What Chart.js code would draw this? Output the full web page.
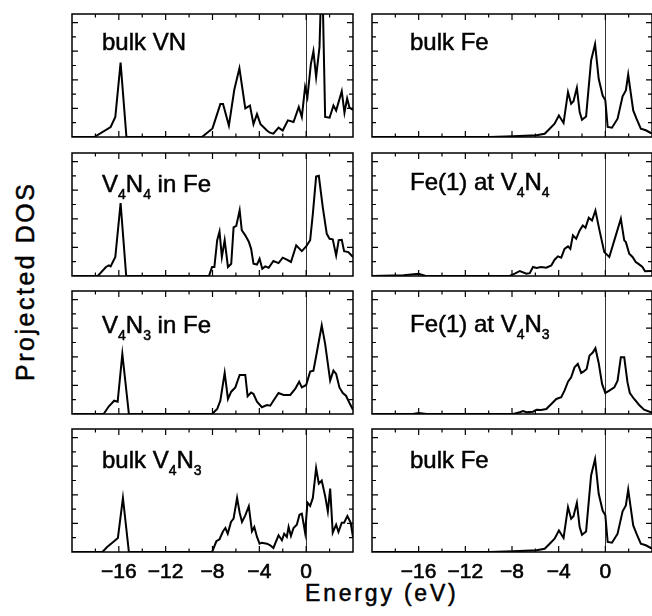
<!DOCTYPE html>
<html lang="en">
<head>
<meta charset="UTF-8">
<title>Projected DOS</title>
<style>
    body {
        margin: 0;
        width: 652px;
        height: 616px;
        overflow: hidden;
        background: #fff;
        position: relative;
        font-family: "Liberation Sans", Arial, sans-serif;
        color: #000;
    }
    canvas { position: absolute; }
    .lbl {
        position: absolute;
        font-size: 24px;
        line-height: 24px;
        white-space: nowrap;
        -webkit-text-stroke: 0.5px #000;
    }
    .lbl sub {
        font-size: 14px;
        vertical-align: -7px;
        line-height: 0;
    }
    .axis {
        position: absolute;
        white-space: nowrap;
        text-align: center;
        -webkit-text-stroke: 0.5px #000;
    }
    #ylab {
        left: -126px;
        top: 270px;
        width: 300px;
        height: 25px;
        font-size: 25px;
        line-height: 25px;
        letter-spacing: 2.5px;
        padding-left: 2.5px;
        transform: rotate(-90deg);
    }
    #xlab {
        left: 229px;
        top: 582px;
        width: 300px;
        font-size: 23px;
        line-height: 23px;
        letter-spacing: 2.8px;
        padding-left: 2.8px;
    }
</style>
</head>
<body>
<div class="axis" id="ylab">Projected DOS</div>
<div class="axis" id="xlab">Energy (eV)</div>

<script src="https://cdn.jsdelivr.net/npm/chart.js"></script>
<script>
    // axis ticks
    const energyTicks = [-18, -16, -14, -12, -10, -8, -6, -4, -2, 0, 2];
    const energyLabels = [-16, -12, -8, -4, 0];
    const dosTicks = [1, 2, 3, 4, 5, 6, 7, 8];
    const fermiLevel = 0;

    // [energy (eV), DOS (arb. units)]
    const bulkVN = [[-20,0],[-18.1,0],[-16.7,0.7],[-16.3,1.4],[-15.85,5.2],[-15.35,0],[-8.9,0],[-8.0,0.6],
        [-7.33,2.3],[-7.1,2.3],[-6.6,0.8],[-6.14,3.3],[-5.7,4.8],[-5.2,2.0],[-4.8,2.2],[-4.5,0.9],[-4.2,1.6],
        [-3.9,0.9],[-3.35,0.45],[-3.1,0.3],[-2.8,0.23],[-2.36,0.65],[-2.0,0.45],[-1.56,1.16],[-1.08,1.05],
        [-0.63,2.1],[-0.37,1.4],[-0.09,3.5],[0.11,2.8],[0.4,5.1],[0.62,6.0],[0.85,4.2],[1.14,6.3],[1.25,9.5],
        [1.42,9.5],[1.62,1.4],[2.0,1.35],[2.33,2.2],[2.56,1.85],[3.04,3.2],[3.27,1.7],[3.5,2.7],[3.7,2.05],[4.0,1.9]];

    const v4n4InFe = [[-20,0],[-17.8,0],[-17.1,0.63],[-16.85,0.74],[-16.7,0.67],[-16.3,1.33],[-15.85,5.1],[-15.37,0],
        [-8.3,0],[-8.04,0.63],[-7.84,0.63],[-7.6,2.5],[-7.4,3.1],[-7.2,1.33],[-6.96,2.5],[-6.68,0.63],[-6.4,0.86],
        [-6.2,3.4],[-5.97,3.5],[-5.68,4.6],[-5.5,3.2],[-5.2,2.84],[-4.9,2.4],[-4.7,1.9],[-4.5,0.86],[-4.2,0.8],
        [-3.98,1.2],[-3.75,0.5],[-3.5,0.67],[-3.2,0.58],[-2.8,1.05],[-2.36,0.9],[-2.0,1.28],[-1.65,1.14],[-1.3,0.98],
        [-0.85,2.14],[-0.37,1.74],[0,2.07],[0.34,2.5],[0.57,4.35],[0.85,6.95],[1.08,7.0],[1.42,4.8],[1.76,2.95],
        [2.0,2.6],[2.27,2.56],[2.56,1.44],[2.78,2.5],[3.04,2.53],[3.24,1.74],[3.6,1.67],[4.0,1.33]];

    const v4n3InFe = [[-20,0],[-17.3,0],[-16.85,0.54],[-16.4,0.93],[-16.1,0.86],[-15.7,4.2],[-15.14,0],[-8.04,0],
        [-7.6,0.35],[-7.33,0.93],[-6.96,2.87],[-6.68,1.05],[-6.4,1.56],[-6.05,1.86],[-5.68,2.73],[-5.2,2.73],
        [-5.0,1.24],[-4.7,1.5],[-4.5,1.4],[-4.2,0.86],[-3.78,0.47],[-3.35,0.63],[-3.07,0.58],[-2.8,0.93],
        [-2.36,1.47],[-1.93,1.33],[-1.36,1.33],[-0.94,1.75],[-0.6,2.26],[-0.37,1.86],[0,2.03],[0.34,2.96],
        [0.62,3.03],[0.91,4.3],[1.33,6.2],[1.62,4.9],[2.05,2.33],[2.33,3.03],[2.56,2.8],[2.84,1.86],[3.13,1.47],
        [3.4,1.28],[3.7,0.77],[4.0,0.3]];

    const bulkV4N3 = [[-20,0],[-17.4,0],[-17.0,0.35],[-16.56,0.65],[-16.08,0.98],[-15.65,3.78],[-15.14,0],[-8.04,0],
        [-7.67,0.75],[-7.4,0.89],[-7.1,1.45],[-6.9,1.68],[-6.7,1.28],[-6.42,2.1],[-6.2,2.33],[-5.9,3.78],[-5.68,2.75],
        [-5.48,2.1],[-5.2,2.56],[-4.9,3.2],[-4.63,1.45],[-4.43,1.75],[-4.2,1.05],[-3.98,0.58],[-3.78,0.65],
        [-3.35,0.58],[-3.07,0.47],[-2.8,0.28],[-2.36,1.17],[-2.07,0.82],[-1.88,1.28],[-1.65,1.05],[-1.5,1.75],
        [-1.3,1.12],[-1.08,1.68],[-0.8,1.91],[-0.57,2.6],[-0.37,2.68],[-0.09,1.35],[0.11,3.45],[0.34,3.22],
        [0.57,3.78],[0.85,5.87],[1.08,4.78],[1.33,5.0],[1.62,3.92],[1.85,2.84],[2.05,4.43],[2.27,1.35],[2.56,1.91],
        [2.76,1.4],[3.04,2.05],[3.24,2.05],[3.52,2.52],[3.8,2.05],[4.0,1.05]];

    const bulkFe = [[-20,0],[-9.9,0],[-7.9,0.05],[-5.9,0.12],[-5.2,0.23],[-4.77,0.58],[-4.35,0.93],[-3.98,1.5],
        [-3.58,0.98],[-3.2,3.14],[-2.93,2.33],[-2.73,2.5],[-2.44,3.44],[-2.2,1.74],[-2.0,1.2],[-1.65,1.44],
        [-1.22,5.35],[-0.88,6.5],[-0.57,4.07],[-0.23,2.9],[0,2.56],[0.2,0.7],[0.57,0.65],[1.05,1.28],[1.48,2.84],
        [1.76,3.26],[1.96,4.37],[2.19,3.02],[2.39,1.86],[2.67,1.28],[3.04,0.58],[3.47,0.47],[3.9,0.28],[4.0,0.25]];

    const fe1AtV4N4 = [[-20,0],[-17.3,0.05],[-16,0.16],[-15.4,0],[-8.2,0],[-7.76,0.16],[-7.33,0.35],[-6.76,0.16],
        [-6.48,0.2],[-6.2,0.63],[-5.9,0.56],[-5.5,0.63],[-5.06,0.58],[-4.63,0.74],[-4.35,1.14],[-4.06,1.37],
        [-3.78,1.28],[-3.5,1.9],[-3.2,2.07],[-3.0,1.9],[-2.78,2.84],[-2.5,2.6],[-2.2,3.19],[-1.93,3.53],[-1.7,3.37],
        [-1.42,4.07],[-1.14,3.88],[-0.85,4.58],[-0.5,3.19],[-0.09,1.67],[0.34,1.33],[0.77,2.49],[1.33,4.0],
        [1.62,2.49],[1.76,2.37],[2.05,1.56],[2.33,1.33],[2.61,0.98],[2.9,0.81],[3.18,0.63],[3.4,0.33],[3.9,0.35],[4.0,0.35]];

    const fe1AtV4N3 = [[-20,0],[-16.5,0],[-16,0.07],[-15.3,0],[-7.9,0],[-7.33,0.12],[-7.05,0.21],[-6.76,0.12],
        [-6.2,0.16],[-5.9,0.3],[-5.5,0.28],[-5.06,0.35],[-4.63,0.7],[-4.2,1.05],[-3.78,1.17],[-3.5,1.63],
        [-3.2,2.26],[-2.93,2.56],[-2.64,3.26],[-2.36,3.5],[-2.07,2.87],[-1.88,2.96],[-1.6,3.15],[-1.36,4.08],
        [-1.08,4.3],[-0.85,4.6],[-0.57,3.57],[-0.28,2.1],[0,1.47],[0.34,1.63],[0.77,1.86],[1.05,2.33],[1.33,3.96],
        [1.62,3.96],[1.9,2.21],[2.1,1.47],[2.47,1.05],[2.9,0.63],[3.32,0.3],[3.9,0.12],[4.0,0.12]];

    const panels = [
        { data: bulkVN,    label: 'bulk VN',                              col: 0, row: 0, base: 36 },
        { data: v4n4InFe,  label: 'V<sub>4</sub>N<sub>4</sub> in Fe',    col: 0, row: 1, base: 39 },
        { data: v4n3InFe,  label: 'V<sub>4</sub>N<sub>3</sub> in Fe',    col: 0, row: 2, base: 42 },
        { data: bulkV4N3,  label: 'bulk V<sub>4</sub>N<sub>3</sub>',      col: 0, row: 3, base: 39 },
        { data: bulkFe,    label: 'bulk Fe',                              col: 1, row: 0, base: 36 },
        { data: fe1AtV4N4, label: 'Fe(1) at V<sub>4</sub>N<sub>4</sub>',  col: 1, row: 1, base: 37 },
        { data: fe1AtV4N3, label: 'Fe(1) at V<sub>4</sub>N<sub>3</sub>',  col: 1, row: 2, base: 41 },
        { data: bulkFe,    label: 'bulk Fe',                              col: 1, row: 3, base: 39 }
    ];

    // layout of the grid
    const colLeft = [72, 372];
    const colRight = [353, 652];
    const rowTop = [14, 153, 291, 429];
    const panelH = 123;
    const labelInset = [30, 38];
    const pad = 3;
    const labelRoom = 40;

    const framePlugin = {
        id: 'frame',
        beforeDatasetsDraw(chart) {
            const { ctx, chartArea: a, scales: { x } } = chart;
            const px = Math.round(x.getPixelForValue(fermiLevel)) + 0.5;
            ctx.save();
            ctx.strokeStyle = '#333';
            ctx.lineWidth = 1;
            ctx.beginPath();
            ctx.moveTo(px, a.top);
            ctx.lineTo(px, a.bottom);
            ctx.stroke();
            ctx.restore();
        },
        afterDraw(chart, args, opts) {
            const { ctx, chartArea: a, scales: { x, y } } = chart;
            ctx.save();
            ctx.strokeStyle = '#000';
            ctx.lineWidth = 1.5;
            ctx.strokeRect(a.left, a.top, a.right - a.left, a.bottom - a.top);

            ctx.lineWidth = 1.2;
            ctx.beginPath();
            energyTicks.forEach(v => {
                const px = x.getPixelForValue(v);
                const len = v % 4 === 0 ? 6 : 3.5;
                ctx.moveTo(px, a.top); ctx.lineTo(px, a.top + len);
                ctx.moveTo(px, a.bottom); ctx.lineTo(px, a.bottom - len);
            });
            dosTicks.forEach(v => {
                const py = y.getPixelForValue(v);
                const len = v % 2 === 0 ? 6 : 4;
                ctx.moveTo(a.left, py); ctx.lineTo(a.left + len, py);
                ctx.moveTo(a.right, py); ctx.lineTo(a.right - len, py);
            });
            ctx.stroke();

            if (opts.showLabels) {
                ctx.fillStyle = '#000';
                ctx.strokeStyle = '#000';
                ctx.lineWidth = 0.6;
                ctx.font = '21px "Liberation Sans", Arial, sans-serif';
                ctx.textAlign = 'center';
                ctx.textBaseline = 'alphabetic';
                energyLabels.forEach(v => {
                    const txt = v < 0 ? '\u2212' + Math.abs(v) : String(v);
                    const px = x.getPixelForValue(v);
                    ctx.fillText(txt, px, a.bottom + 26);
                    ctx.strokeText(txt, px, a.bottom + 26);
                });
            }
            ctx.restore();
        }
    };

    panels.forEach(p => {
        const L = colLeft[p.col], R = colRight[p.col];
        const T = rowTop[p.row];
        const bottomRow = p.row === 3;
        const extra = bottomRow ? labelRoom : 0;

        const cv = document.createElement('canvas');
        cv.width = R - L + 2 * pad;
        cv.height = panelH + 2 * pad + extra;
        cv.style.left = (L - pad) + 'px';
        cv.style.top = (T - pad) + 'px';
        document.body.appendChild(cv);

        new Chart(cv, {
            type: 'line',
            data: {
                datasets: [{
                    data: p.data.map(([e, d]) => ({ x: e, y: d })),
                    borderColor: '#000',
                    borderWidth: 2,
                    pointRadius: 0,
                    tension: 0,
                    fill: false
                }]
            },
            options: {
                responsive: false,
                animation: false,
                events: [],
                layout: { padding: { left: pad, right: pad, top: pad, bottom: pad + extra } },
                scales: {
                    x: { type: 'linear', min: -20, max: 4, display: false },
                    y: { min: 0, max: 8.6, display: false }
                },
                plugins: {
                    legend: { display: false },
                    tooltip: { enabled: false },
                    frame: { showLabels: bottomRow }
                }
            },
            plugins: [framePlugin]
        });

        const lbl = document.createElement('div');
        lbl.className = 'lbl';
        lbl.innerHTML = p.label;
        lbl.style.left = (L + labelInset[p.col]) + 'px';
        lbl.style.top = (T + p.base - 20.3) + 'px';
        document.body.appendChild(lbl);
    });
</script>
</body>
</html>
